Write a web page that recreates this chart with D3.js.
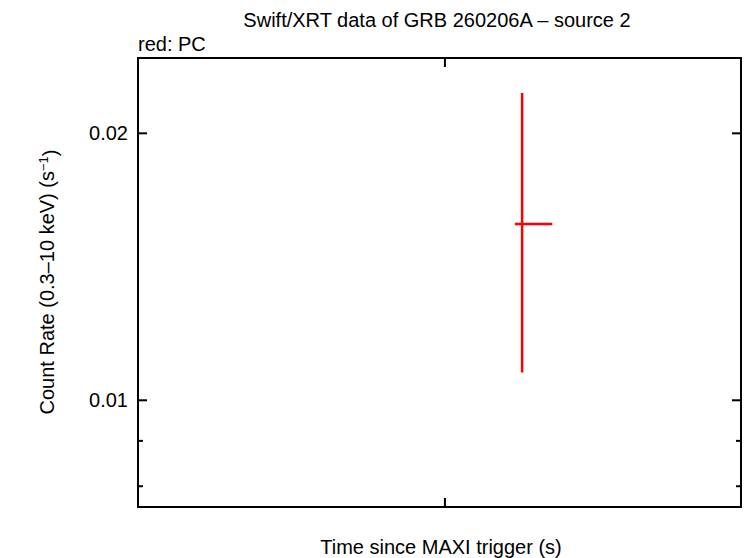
<!DOCTYPE html>
<html>
<head>
<meta charset="utf-8">
<script src="https://cdn.jsdelivr.net/npm/d3@7"></script>
<style>
  body { margin: 0; background: #fff; }
  text { font-family: "Liberation Sans", Arial, sans-serif; fill: #000; }
</style>
</head>
<body>
<svg id="chart" width="746" height="558"></svg>
<script>
// data (time in arbitrary seconds since trigger)
var xDomain = [0, 1000];
var xTicks = [509];
var yDomain = [0.00758, 0.02432];
var yMajor = [0.01, 0.02];
var yMinor = [0.008, 0.009];

var times = [637];
var timeLo = [625];
var timeHi = [687];
var rates = [0.0158];
var rateLo = [0.01075];
var rateHi = [0.02221];

var svg = d3.select("#chart"),
    pLeft = 138, pRight = 741, pTop = 58, pBottom = 507;

var x = d3.scaleLinear().domain(xDomain).range([pLeft, pRight]);
var y = d3.scaleLog().domain(yDomain).range([pBottom, pTop]);

// frame
svg.append("rect")
    .attr("x", pLeft).attr("y", pTop)
    .attr("width", pRight - pLeft).attr("height", pBottom - pTop)
    .attr("fill", "none").attr("stroke", "#000").attr("stroke-width", 2);

// y ticks, both sides
var yt = yMajor.map(function (v) { return {v: v, len: 9}; })
    .concat(yMinor.map(function (v) { return {v: v, len: 5}; }));
yt.forEach(function (d) {
    svg.append("line").attr("x1", pLeft).attr("x2", pLeft + d.len)
        .attr("y1", y(d.v)).attr("y2", y(d.v))
        .attr("stroke", "#000").attr("stroke-width", 2);
    svg.append("line").attr("x1", pRight).attr("x2", pRight - d.len)
        .attr("y1", y(d.v)).attr("y2", y(d.v))
        .attr("stroke", "#000").attr("stroke-width", 2);
});
yMajor.forEach(function (v) {
    svg.append("text").attr("x", pLeft - 10).attr("y", y(v))
        .attr("dy", "0.35em").attr("text-anchor", "end")
        .style("font-size", "20px").text(v);
});

// x ticks top and bottom
xTicks.forEach(function (v) {
    svg.append("line").attr("x1", x(v)).attr("x2", x(v))
        .attr("y1", pBottom).attr("y2", pBottom - 9)
        .attr("stroke", "#000").attr("stroke-width", 2);
    svg.append("line").attr("x1", x(v)).attr("x2", x(v))
        .attr("y1", pTop).attr("y2", pTop + 9)
        .attr("stroke", "#000").attr("stroke-width", 2);
});

// data point with error bars
var g = svg.append("g").attr("stroke", "#ff0000").attr("stroke-width", 2.5);
times.forEach(function (t, i) {
    g.append("line").attr("x1", x(t)).attr("x2", x(t))
        .attr("y1", y(rateLo[i])).attr("y2", y(rateHi[i]));
    g.append("line").attr("x1", x(timeLo[i])).attr("x2", x(timeHi[i]))
        .attr("y1", y(rates[i])).attr("y2", y(rates[i]));
});

// labels
svg.append("text").attr("x", 437).attr("y", 27).attr("text-anchor", "middle")
    .style("font-size", "20px").text("Swift/XRT data of GRB 260206A \u2013 source 2");
svg.append("text").attr("x", 138).attr("y", 51)
    .style("font-size", "20px").text("red: PC");
svg.append("text").attr("x", 441).attr("y", 554).attr("text-anchor", "middle")
    .style("font-size", "20px").text("Time since MAXI trigger (s)");

var yl = svg.append("text").attr("transform", "translate(54,282) rotate(-90)")
    .attr("text-anchor", "middle").style("font-size", "20px");
yl.append("tspan").text("Count Rate (0.3\u201310 keV) (s");
yl.append("tspan").attr("dy", "-0.45em").style("font-size", "13px").text("\u22121");
yl.append("tspan").attr("dy", "0.45em").text(")");
</script>
</body>
</html>
